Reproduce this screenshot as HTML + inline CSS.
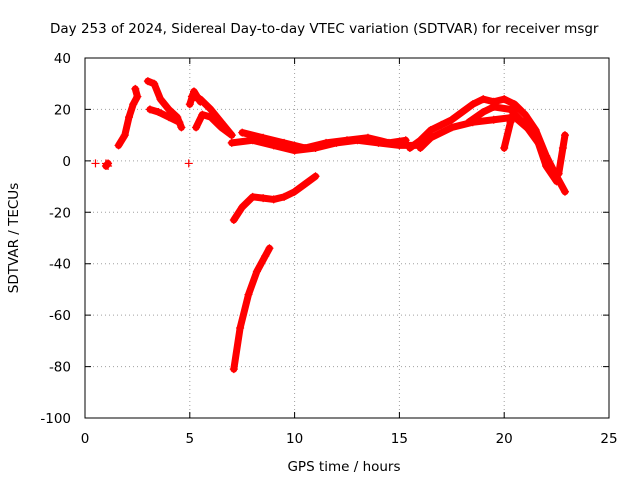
<!DOCTYPE html>
<html><head><meta charset="utf-8"><style>
html,body{margin:0;padding:0;background:#fff;}
svg{display:block;font-family:"DejaVu Sans","Liberation Sans",sans-serif;font-size:13.5px;}
</style></head><body>
<svg id="chart" width="640" height="480">
<text x="50" y="33">Day 253 of 2024, Sidereal Day-to-day VTEC variation (SDTVAR) for receiver msgr</text>
<text transform="translate(18,238) rotate(-90)" text-anchor="middle">SDTVAR / TECUs</text>
<text x="344" y="471" text-anchor="middle">GPS time / hours</text>
<g id="grid"></g><g id="ticks"></g><g id="data"></g>
<rect x="85" y="58" width="524" height="360" fill="none" stroke="#000" stroke-width="1"/>
</svg>
<script>
const xTicks=[0,5,10,15,20,25];
const yTicks=[40,20,0,-20,-40,-60,-80,-100];
const isolated=[[0.5,-1],[1.0,-1],[1.1,-2],[4.95,-1]];
const tracks=[
[[1.6,6],[1.9,10],[2.1,17],[2.3,22],[2.5,25],[2.4,28]],
[[3.0,31],[3.3,30],[3.6,24],[4.0,20],[4.4,17],[4.6,13]],
[[3.1,20],[3.5,19],[4.0,17],[4.5,15]],
[[5.1,25],[5.5,24],[6.0,20],[6.5,15],[7.0,10]],
[[5.3,13],[5.6,18],[6.0,17],[6.5,13],[7.0,10]],
[[7.0,7],[8.0,8],[9.0,6],[10.0,4],[11.0,5],[12.0,7],[13.0,8],[14.0,7],[15.0,6],[16.0,6]],
[[7.5,11],[8.5,9],[9.5,7],[10.5,5],[11.5,7],[12.5,8],[13.5,9],[14.5,7],[15.3,8]],
[[7.1,-23],[7.5,-18],[8.0,-14],[8.5,-14.5],[9.0,-15],[9.5,-14],[10.0,-12],[10.5,-9],[11.0,-6]],
[[7.1,-81],[7.4,-65],[7.8,-52],[8.2,-43],[8.6,-37],[8.8,-34]],
[[15.5,5],[16.0,8],[16.5,12],[17.0,14],[17.5,16],[18.0,19],[18.5,22],[19.0,24],[19.5,23],[20.0,24],[20.5,22],[21.0,18],[21.5,12],[22.0,2],[22.5,-6],[22.9,-12]],
[[16.0,5],[16.5,9],[17.5,13],[18.5,15],[19.5,16],[20.5,17],[21.5,10],[22.0,-2],[22.5,-8]],
[[18.3,15],[19.0,19],[19.5,21],[20.3,20],[21.0,14],[21.8,5],[22.3,-4]],
[[20.0,5],[20.3,15],[20.5,20]],
[[22.6,-5],[22.8,5],[22.9,10]],
[[1.0,-2],[1.1,-1]],
[[5.0,22],[5.2,27],[5.5,23]]
];
const NS="http://www.w3.org/2000/svg";
const X0=85,X1=609,Y0=418,Y1=58;
function sx(v){return X0+(v-0)/(25-0)*(X1-X0);}
function sy(v){return Y0-(v+100)/140*(Y0-Y1);}
function mk(t,a,p){const e=document.createElementNS(NS,t);for(const k in a)e.setAttribute(k,a[k]);p.appendChild(e);return e;}
const grid=document.getElementById('grid'),ticks=document.getElementById('ticks'),data=document.getElementById('data');
xTicks.forEach(v=>{const x=sx(v);
 if(v>0&&v<25){const l=mk('line',{x1:x,y1:Y0,x2:x,y2:Y1,stroke:'#a0a0a0','stroke-dasharray':'1,3'},grid);
 }
 const t=mk('path',{d:`M${x},${Y0}v-6M${x},${Y1}v6`,stroke:'#000'},ticks);
 
 const tx=mk('text',{x:x,y:443,'text-anchor':'middle'},ticks);tx.textContent=v;
 });
yTicks.forEach(v=>{const y=sy(v);
 if(v>-100&&v<40){const l=mk('line',{x1:X0,y1:y,x2:X1,y2:y,stroke:'#a0a0a0','stroke-dasharray':'1,3'},grid);
 }
 const t=mk('path',{d:`M${X0},${y}h6M${X1},${y}h-6`,stroke:'#000'},ticks);
 
 const tx=mk('text',{x:71,y:y+5,'text-anchor':'end'},ticks);tx.textContent=v;
 });
function plus(p,parent){const x=sx(p[0]),y=sy(p[1]);
 const e=mk('path',{d:`M${x-4},${y}h8M${x},${y-4}v8`,stroke:'#f00','stroke-width':1.2},parent);
 }
tracks.forEach(tr=>{
 const g=mk('g',{},data);
 const pl=mk('polyline',{points:tr.map(p=>sx(p[0])+','+sy(p[1])).join(' '),fill:'none',stroke:'#f00','stroke-width':7,'stroke-linejoin':'round','stroke-linecap':'round'},g);
 
 tr.forEach(p=>plus(p,g));});
isolated.forEach(p=>plus(p,data));
</script>
</body></html>
